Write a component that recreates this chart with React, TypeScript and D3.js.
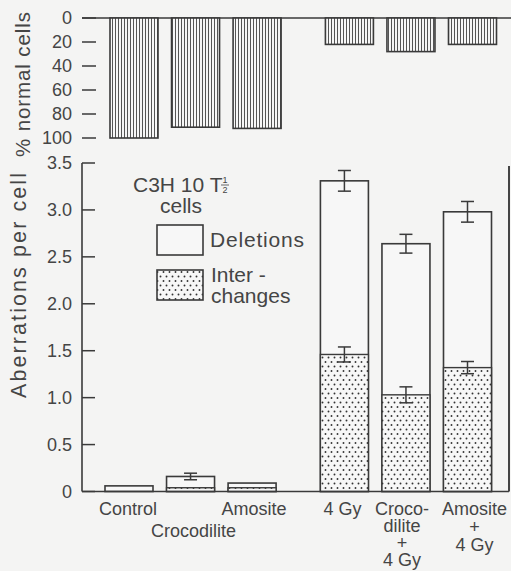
import React from 'react';
import * as d3 from 'd3';

// ---- data ----
const categories = ['Control', 'Crocodilite', 'Amosite', '4 Gy', 'Crocodilite + 4 Gy', 'Amosite + 4 Gy'];
const categoryLabelLines = [['Control'], ['Crocodilite'], ['Amosite'], ['4 Gy'], ['Croco-', 'dilite', '+', '4 Gy'], ['Amosite', '+', '4 Gy']];
const groupGap = [0, 0, 0, 0.5, 0.5, 0.5];
const normalCells = [100, 91, 92, 22, 28, 22];
const totalAberrations = [0.06, 0.16, 0.09, 3.31, 2.64, 2.98];
const totalError = [0, 0.035, 0, 0.11, 0.1, 0.11];
const interchanges = [0, 0.04, 0.04, 1.46, 1.03, 1.32];
const interchangeError = [0, 0, 0, 0.08, 0.085, 0.065];
const topTicks = [0, 20, 40, 60, 80, 100];
const bottomTicks = [0, 0.5, 1.0, 1.5, 2.0, 2.5, 3.0, 3.5];

const W = 511;
const H = 571;
const FONT = '"Liberation Sans", Arial, Helvetica, sans-serif';
const INK = '#3a3a3a';
const TEXT = '#454545';

export default function App() {
  const axisX = 82;
  const slot = categories.map((_, i) => i + groupGap[i]);
  const x = d3.scaleLinear().domain([0, 5.5]).range([129, 467.5]);
  const topShift = 5;
  const barW = 48;
  const yTop = d3.scaleLinear().domain([0, 100]).range([18, 138]);
  const yBot = d3.scaleLinear().domain([0, 3.5]).range([491.5, 163]);
  const fmt = (v: number) => (v === 0 ? '0' : d3.format('.1f')(v));
  // label placement tweaks (layout only)
  const labelDx = [-1, 3, 2, -2, -4, 7];
  const labelTop = [515, 537, 515, 515, 515, 515];
  const labelStep = [18, 18, 18, 18, 17, 18];

  return (
    <svg width={W} height={H} style={{ position: 'absolute', left: 0, top: 0, background: '#f4f4f3' }}>
      <defs>
        <pattern id="vhatch" patternUnits="userSpaceOnUse" width={3} height={6}>
          <rect width={3} height={6} fill="#f7f7f7" />
          <line x1={1.5} y1={0} x2={1.5} y2={6} stroke="#555" strokeWidth={1} />
        </pattern>
        <pattern id="dots" patternUnits="userSpaceOnUse" width={6} height={9}>
          <rect width={6} height={9} fill="#f7f7f7" />
          <circle cx={1.5} cy={2} r={0.95} fill="#333" />
          <circle cx={4.5} cy={6.5} r={0.95} fill="#333" />
        </pattern>
      </defs>

      {/* ---- top panel: % normal cells ---- */}
      <line x1={axisX} x2={W} y1={yTop(0)} y2={yTop(0)} stroke={INK} strokeWidth={1.6} />
      {topTicks.map((t) => (
        <g key={'tt' + t}>
          <line x1={axisX} x2={axisX + 14} y1={yTop(t)} y2={yTop(t)} stroke={INK} strokeWidth={1.5} />
          <text x={72} y={yTop(t)} dy="0.36em" textAnchor="end" fontFamily={FONT} fontSize={18} fill={TEXT}>
            {t}
          </text>
        </g>
      ))}
      {normalCells.map((v, i) => (
        <rect
          key={'nc' + i}
          x={x(slot[i]) + topShift - barW / 2}
          y={yTop(0)}
          width={barW}
          height={yTop(v) - yTop(0)}
          fill="url(#vhatch)"
          stroke={INK}
          strokeWidth={1.6}
        />
      ))}
      <text
        transform={`translate(30, 84.5) rotate(-90)`}
        textAnchor="middle"
        fontFamily={FONT}
        fontSize={20.5}
        fill={TEXT}
        textLength={145}
        lengthAdjust="spacing"
      >
        % normal cells
      </text>

      {/* ---- bottom panel: aberrations ---- */}
      {totalAberrations.map((v, i) => {
        const cx = x(slot[i]);
        return (
          <g key={'ab' + i}>
            <rect
              x={cx - barW / 2}
              y={yBot(v)}
              width={barW}
              height={yBot(0) - yBot(v)}
              fill="#f7f7f7"
              stroke={INK}
              strokeWidth={1.6}
            />
            {interchanges[i] > 0 && (
              <rect
                x={cx - barW / 2}
                y={yBot(interchanges[i])}
                width={barW}
                height={yBot(0) - yBot(interchanges[i])}
                fill="url(#dots)"
                stroke={INK}
                strokeWidth={1.4}
              />
            )}
          </g>
        );
      })}
      {/* error bars */}
      {totalAberrations.map((v, i) => {
        const cx = x(slot[i]);
        const bars: JSX.Element[] = [];
        const add = (val: number, err: number, k: string) => {
          if (err <= 0) return;
          const y1 = yBot(val + err);
          const y2 = yBot(val - err);
          bars.push(
            <g key={k} stroke={INK} strokeWidth={1.5}>
              <line x1={cx} x2={cx} y1={y1} y2={y2} />
              <line x1={cx - 6.5} x2={cx + 6.5} y1={y1} y2={y1} />
              <line x1={cx - 6.5} x2={cx + 6.5} y1={y2} y2={y2} />
            </g>
          );
        };
        add(v, totalError[i], 'te' + i);
        add(interchanges[i], interchangeError[i], 'ie' + i);
        return <g key={'eb' + i}>{bars}</g>;
      })}

      {/* axes */}
      <line x1={axisX} x2={axisX} y1={yBot(3.5)} y2={yBot(0)} stroke={INK} strokeWidth={1.6} />
      <line x1={axisX} x2={509} y1={yBot(0)} y2={yBot(0)} stroke={INK} strokeWidth={1.6} />
      <line x1={509} x2={509} y1={166} y2={yBot(0)} stroke="#444" strokeWidth={2} />
      {bottomTicks.map((t) => (
        <g key={'bt' + t}>
          <line x1={axisX} x2={axisX + 13} y1={yBot(t)} y2={yBot(t)} stroke={INK} strokeWidth={1.5} />
          <text x={72} y={yBot(t)} dy="0.36em" textAnchor="end" fontFamily={FONT} fontSize={18} fill={TEXT}>
            {fmt(t)}
          </text>
        </g>
      ))}
      <text
        transform={`translate(26, 285.5) rotate(-90)`}
        textAnchor="middle"
        fontFamily={FONT}
        fontSize={21.5}
        fill={TEXT}
        textLength={225}
        lengthAdjust="spacing"
      >
        Aberrations per cell
      </text>

      {/* category labels */}
      {categoryLabelLines.map((lines, i) => (
        <text key={'cl' + i} textAnchor="middle" fontFamily={FONT} fontSize={18} fill={TEXT}>
          {lines.map((ln, j) => (
            <tspan key={j} x={x(slot[i]) + labelDx[i]} y={labelTop[i] + j * labelStep[i]}>
              {ln}
            </tspan>
          ))}
        </text>
      ))}

      {/* legend */}
      <g fontFamily={FONT} fill={TEXT}>
        <text x={133} y={192} fontSize={21}>C3H 10 T</text>
        <text x={225} y={183} fontSize={9} textAnchor="middle">1</text>
        <line x1={221} x2={229} y1={185} y2={185} stroke={TEXT} strokeWidth={0.8} />
        <text x={225} y={193} fontSize={9} textAnchor="middle">2</text>
        <text x={181} y={213} fontSize={21} textAnchor="middle">cells</text>
        <rect x={157} y={225} width={46} height={30} fill="#f7f7f7" stroke={INK} strokeWidth={1.6} />
        <text x={210} y={247} fontSize={21} textLength={94} lengthAdjust="spacing">Deletions</text>
        <rect x={157} y={270} width={46} height={30} fill="url(#dots)" stroke={INK} strokeWidth={1.6} />
        <text x={211} y={282} fontSize={21}>Inter -</text>
        <text x={211} y={303} fontSize={21}>changes</text>
      </g>
    </svg>
  );
}
